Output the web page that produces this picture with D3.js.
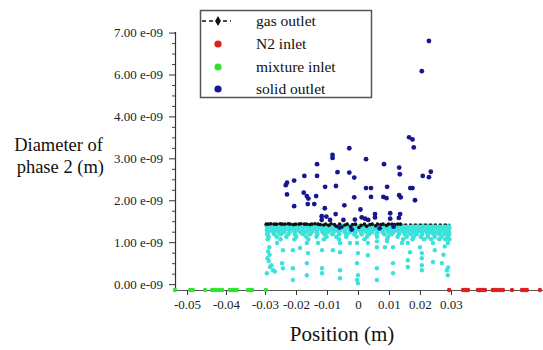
<!DOCTYPE html>
<html>
<head>
<meta charset="utf-8">
<script src="https://cdn.jsdelivr.net/npm/d3@7"></script>
<style>
  body { margin: 0; background: #fff; }
</style>
</head>
<body>
<svg id="chart" width="543" height="350"></svg>
<script>
// ---- data (x in m, diameter in units of 1e-9 m) ----
const yTickValues = [0, 1, 2, 3, 4, 6, 7];
const yTickLabels = ["0.00 e-09", "1.00 e-09", "2.00 e-09", "3.00 e-09", "4.00 e-09", "6.00 e-09", "7.00 e-09"];
const xTickValues = [-0.05, -0.04, -0.03, -0.02, -0.01, 0, 0.01, 0.02, 0.03];
const xTickLabels = ["-0.05", "-0.04", "-0.03", "-0.02", "-0.01", "0", "0.01", "0.02", "0.03"];

const seriesNames = ["gas outlet", "N2 inlet", "mixture inlet", "solid outlet"];

const gasX = [-0.0296, -0.0289, -0.0281, -0.0270, -0.0263, -0.0251, -0.0245, -0.0236, -0.0225, -0.0219, -0.0208, -0.0201,
  -0.0190, -0.0184, -0.0173, -0.0166, -0.0155, -0.0149, -0.0139, -0.0129, -0.0122, -0.0111, -0.0104, -0.0094, -0.0087,
  -0.0076, -0.0070, -0.0059, -0.0052, -0.0042, -0.0035, -0.0024, -0.0017, -0.0008, 0.0003, 0.0010, 0.0021, 0.0028,
  0.0039, 0.0046, 0.0057, 0.0063, 0.0074, 0.0081, 0.0092, 0.0099, 0.0110, 0.0118, 0.0128, 0.0137, 0.0158, 0.0186,
  0.0214, 0.0243, 0.0271, 0.0296];
const gasY = [1.43, 1.43, 1.44, 1.43, 1.43, 1.44, 1.43, 1.43, 1.44, 1.43, 1.42, 1.43,
  1.43, 1.44, 1.43, 1.43, 1.42, 1.43, 1.44, 1.43, 1.42, 1.41, 1.43, 1.40, 1.44,
  1.42, 1.38, 1.43, 1.36, 1.41, 1.43, 1.37, 1.42, 1.43, 1.35, 1.40, 1.43, 1.38,
  1.42, 1.43, 1.39, 1.43, 1.42, 1.43, 1.40, 1.43, 1.43, 1.42, 1.43, 1.43, 1.43, 1.43,
  1.43, 1.43, 1.43, 1.43];

const n2X = [0.0294, 0.0339, 0.0344, 0.0350, 0.0355, 0.0387, 0.0392, 0.0397, 0.0404, 0.0410, 0.0435, 0.0441,
  0.0448, 0.0458, 0.0468, 0.0497, 0.0529, 0.0537, 0.0545, 0.0587];
const n2Y = [-0.14, -0.14, -0.14, -0.14, -0.14, -0.14, -0.14, -0.14, -0.14, -0.14, -0.14, -0.14,
  -0.14, -0.14, -0.14, -0.14, -0.14, -0.14, -0.14, -0.14];

const mixX = [-0.0531, -0.0492, -0.0485, -0.0454, -0.0436, -0.0431, -0.0426, -0.0418, -0.0410, -0.0390, -0.0384,
  -0.0379, -0.0372, -0.0344, -0.0338, -0.0333, -0.0297];
const mixY = [-0.14, -0.14, -0.14, -0.14, -0.14, -0.14, -0.14, -0.14, -0.14, -0.14, -0.14,
  -0.14, -0.14, -0.14, -0.14, -0.14, -0.14];

const solidX = [0.0165, 0.0176, 0.0180, -0.0028, -0.0082, -0.0082, 0.0026, -0.0132, 0.0084, 0.0133, -0.0066, -0.0028,
  -0.0173, -0.0132, -0.0012, 0.0135, 0.0209, 0.0235, 0.0229, -0.0206, -0.0229, -0.0233, -0.0106, -0.0071, 0.0026,
  0.0042, 0.0094, 0.0169, 0.0176, -0.0229, -0.0175, -0.0165, -0.0160, -0.0135, -0.0012, 0.0042, 0.0082, 0.0092,
  0.0133, 0.0138, 0.0184, -0.0206, -0.0162, -0.0141, -0.0044, -0.0107, -0.0072, -0.0102, -0.0117, 0.0008, 0.0055,
  0.0104, 0.0136, 0.0012, 0.0023, 0.0055, -0.0010, 0.0104, 0.0132, -0.0117, -0.0090, -0.0047, 0.0033, 0.0229, 0.0206,
  -0.0060, -0.0020, 0.0070, 0.0115];
const solidY = [3.50, 3.45, 3.26, 3.24, 3.08, 3.01, 2.98, 2.86, 2.86, 2.78, 2.67, 2.66,
  2.58, 2.58, 2.54, 2.62, 2.58, 2.68, 2.55, 2.47, 2.42, 2.36, 2.32, 2.34, 2.29,
  2.29, 2.32, 2.29, 2.29, 2.14, 2.18, 2.10, 2.04, 2.10, 2.07, 2.08, 2.08, 2.05,
  2.12, 2.07, 2.00, 1.86, 1.91, 1.91, 1.88, 1.81, 1.67, 1.61, 1.62, 1.78, 1.67,
  1.69, 1.67, 1.59, 1.56, 1.59, 1.54, 1.56, 1.58, 1.53, 1.53, 1.53, 1.53, 6.80, 6.08,
  1.35, 1.30, 1.33, 1.37];

// the un-labelled cyan particles: dense rows near the outlet, then scattered points
const bandRowY = [1.39, 1.34, 1.29, 1.24, 1.19, 1.13, 1.07];
const bandRowX = [
  [-0.0295, -0.0282, -0.0267, -0.0254, -0.0241, -0.0226, -0.0214, -0.0199, -0.0187, -0.0171, -0.0159, -0.0145,
   -0.0130, -0.0118, -0.0103, -0.0091, -0.0077, -0.0062, -0.0050, -0.0035, -0.0023, -0.0008, 0.0007, 0.0019, 0.0034,
   0.0046, 0.0061, 0.0075, 0.0087, 0.0102, 0.0114, 0.0129, 0.0143, 0.0155, 0.0170, 0.0182, 0.0197, 0.0211, 0.0223,
   0.0238, 0.0250, 0.0265, 0.0279, 0.0293],
  [-0.0291, -0.0276, -0.0262, -0.0247, -0.0234, -0.0219, -0.0205, -0.0193, -0.0178, -0.0163, -0.0152, -0.0137,
   -0.0124, -0.0109, -0.0097, -0.0082, -0.0070, -0.0055, -0.0042, -0.0029, -0.0014, 0.0000, 0.0013, 0.0027, 0.0040,
   0.0054, 0.0068, 0.0081, 0.0095, 0.0108, 0.0122, 0.0135, 0.0149, 0.0163, 0.0176, 0.0190, 0.0204, 0.0217, 0.0231,
   0.0244, 0.0258, 0.0272, 0.0286, 0.0295],
  [-0.0294, -0.0280, -0.0265, -0.0251, -0.0236, -0.0222, -0.0207, -0.0192, -0.0177, -0.0161, -0.0146, -0.0132,
   -0.0116, -0.0102, -0.0087, -0.0071, -0.0056, -0.0041, -0.0027, -0.0011, 0.0004, 0.0018, 0.0034, 0.0049, 0.0063,
   0.0079, 0.0094, 0.0108, 0.0124, 0.0139, 0.0153, 0.0169, 0.0184, 0.0198, 0.0214, 0.0229, 0.0243, 0.0259, 0.0274,
   0.0288],
  [-0.0290, -0.0273, -0.0256, -0.0239, -0.0220, -0.0203, -0.0186, -0.0168, -0.0150, -0.0133, -0.0114, -0.0097,
   -0.0079, -0.0062, -0.0043, -0.0026, -0.0008, 0.0010, 0.0027, 0.0045, 0.0063, 0.0080, 0.0098, 0.0115, 0.0133,
   0.0148, 0.0163, 0.0178, 0.0192, 0.0207, 0.0222, 0.0236, 0.0251, 0.0266, 0.0281, 0.0294],
  [-0.0293, -0.0270, -0.0249, -0.0225, -0.0203, -0.0178, -0.0155, -0.0131, -0.0108, -0.0083, -0.0060, -0.0036,
   -0.0012, 0.0012, 0.0036, 0.0060, 0.0085, 0.0108, 0.0132, 0.0152, 0.0170, 0.0189, 0.0207, 0.0226, 0.0244, 0.0262,
   0.0279, 0.0294],
  [-0.0288, -0.0262, -0.0231, -0.0199, -0.0167, -0.0134, -0.0101, -0.0070, -0.0038, -0.0004, 0.0029, 0.0062,
   0.0097, 0.0128, 0.0157, 0.0180, 0.0203, 0.0225, 0.0248, 0.0270, 0.0290],
  [-0.0291, -0.0250, -0.0205, -0.0160, -0.0110, -0.0061, 0.0021, 0.0094, 0.0146, 0.0176, 0.0213, 0.0236, 0.0262,
   0.0282, 0.0295]
];
const cyanX = [-0.0261, -0.0242, -0.0210, -0.0187, -0.0165, -0.0161, -0.0129, -0.0116, -0.0081, -0.0058, -0.0058,
  -0.0026, -0.0284, -0.0274, -0.0245, -0.0242, -0.0210, -0.0210, -0.0165, -0.0165, -0.0116, -0.0116, -0.0058, -0.0058,
  -0.0003, -0.0003, 0.0000, 0.0032, 0.0032, 0.0061, 0.0061, 0.0094, 0.0087, 0.0113, 0.0142, 0.0161, 0.0168, 0.0200,
  0.0206, 0.0242, 0.0248, 0.0290, -0.0003, 0.0000, 0.0000, 0.0061, 0.0061, 0.0113, 0.0113, 0.0161, 0.0161, 0.0206,
  0.0206, 0.0206, 0.0242, 0.0271, 0.0287, 0.0290, -0.0294, -0.0288, -0.0292, -0.0285, -0.0290, -0.0286, -0.0279,
  -0.0268, 0.0280, 0.0276, 0.0291];
const cyanY = [0.98, 0.81, 0.81, 0.86, 0.98, 0.74, 0.98, 0.81, 0.81, 0.98, 0.76,
  0.98, 0.41, 0.33, 0.50, 0.38, 0.38, 0.10, 0.50, 0.21, 0.38, 0.26, 0.33, 0.14,
  0.10, 0.98, 0.74, 0.98, 0.69, 1.02, 0.88, 1.02, 0.88, 0.88, 0.98, 0.98, 0.76, 0.88,
  0.74, 0.98, 0.81, 0.98, 0.50, 0.21, 0.02, 0.38, 0.10, 0.50, 0.26, 0.57, 0.41, 0.62,
  0.45, 0.33, 0.53, 0.50, 0.33, 0.21, 0.26, 0.55, 0.62, 0.70, 0.78, 0.88, 0.45,
  0.30, 0.90, 0.70, 0.40];

// ---- layout ----
const serif = '"Liberation Serif", "Times New Roman", Times, serif';
const svg = d3.select("#chart");
const x = d3.scaleLinear().domain([-0.0531, -0.03, 0.061]).range([175, 265, 547]);
const y = d3.scaleLinear().domain([-0.14, 4, 6, 7]).range([290, 116.4, 74.5, 32.6]);

const colors = { gas: "#111111", n2: "#dd2020", mix: "#33e033", solid: "#17178f", cyan: "#3ae2da" };

// y axis with minor ticks
const yMinor = [];
for (let i = 0; i < yTickValues.length - 1; i++) {
  const a = yTickValues[i], b = yTickValues[i + 1];
  for (let k = 1; k < 4; k++) yMinor.push(a + (b - a) * k / 4);
}
svg.append("g")
  .attr("transform", "translate(175,0)")
  .call(d3.axisLeft(y).tickValues(yMinor).tickSize(3).tickFormat(""))
  .call(g => g.select(".domain").remove())
  .selectAll("line").attr("stroke", "#444");

const yAxis = svg.append("g")
  .attr("transform", "translate(175,0)")
  .call(d3.axisLeft(y).tickValues(yTickValues).tickSize(6).tickPadding(6)
    .tickFormat((d, i) => yTickLabels[i]));
yAxis.select(".domain").attr("d", `M-0.5,${y(7)}H0.5V${y(-0.14)}`).attr("stroke", "#333").attr("stroke-width", 1.2);
yAxis.selectAll("line").attr("stroke", "#333");
yAxis.selectAll("text").style("font-family", serif).style("font-size", "13px").attr("fill", "#222");

// x axis
const xAxis = svg.append("g")
  .attr("transform", `translate(0,${y(-0.14)})`)
  .call(d3.axisBottom(x).tickValues(xTickValues).tickSize(5).tickPadding(5).tickSizeOuter(0)
    .tickFormat((d, i) => xTickLabels[i]));
xAxis.select(".domain").attr("stroke", "#555").attr("stroke-width", 1.2);
xAxis.selectAll("line").attr("stroke", "#333");
xAxis.selectAll("text").style("font-family", serif).style("font-size", "13px").attr("fill", "#222");

// axis titles
svg.append("text").attr("x", 342).attr("y", 341).attr("text-anchor", "middle")
  .style("font-family", serif).style("font-size", "21px").attr("fill", "#111").text("Position (m)");
const yTitle = svg.append("text").attr("text-anchor", "end")
  .style("font-family", serif).style("font-size", "18.5px").attr("fill", "#111");
yTitle.append("tspan").attr("x", 103).attr("y", 151).text("Diameter of");
yTitle.append("tspan").attr("x", 104).attr("y", 173).text("phase 2 (m)");

// marks
const plot = svg.append("g");
function dots(xs, ys, color, r) {
  plot.append("g").selectAll("circle")
    .data(xs.map((v, i) => [v, ys[i]]))
    .join("circle")
    .attr("cx", d => x(d[0]))
    .attr("cy", d => y(d[1]))
    .attr("r", r)
    .attr("fill", color);
}

bandRowX.forEach((row, i) => dots(row, row.map(() => bandRowY[i]), colors.cyan, 2.3));
dots(cyanX, cyanY, colors.cyan, 2.2);

const gasPts = gasX.map((v, i) => [v, gasY[i]]);
plot.append("path")
  .datum(gasPts)
  .attr("fill", "none")
  .attr("stroke", "#333")
  .attr("stroke-width", 1.5)
  .attr("stroke-dasharray", "3,2")
  .attr("d", d3.line().x(d => x(d[0])).y(d => y(d[1])));
dots(gasX.filter(v => v < 0.014), gasY.filter((v, i) => gasX[i] < 0.014), colors.gas, 1.8);

dots(solidX, solidY, colors.solid, 2.4);
dots(mixX, mixY, colors.mix, 2.2);
dots(n2X, n2Y, colors.n2, 2.2);

// legend
const legend = svg.append("g");
legend.append("rect").attr("x", 200.5).attr("y", 10.5).attr("width", 171).attr("height", 87)
  .attr("fill", "#fff").attr("stroke", "#555").attr("stroke-width", 1.5);
const legendRowY = [21, 44, 67, 89];
const legendColors = [colors.gas, colors.n2, colors.mix, colors.solid];
seriesNames.forEach((name, i) => {
  const row = legend.append("g").attr("transform", `translate(0,${legendRowY[i]})`);
  if (i === 0) {
    row.append("line").attr("x1", 202).attr("x2", 231).attr("stroke", "#111")
      .attr("stroke-width", 1.5).attr("stroke-dasharray", "4,3");
    row.append("path").attr("d", d3.symbol(d3.symbolDiamond, 30)).attr("transform", "translate(218,0)")
      .attr("fill", "#111");
  } else {
    row.append("circle").attr("cx", 218).attr("r", 3.6).attr("fill", legendColors[i]);
  }
  row.append("text").attr("x", 256).attr("dy", "0.33em")
    .style("font-family", serif).style("font-size", "15.5px").attr("fill", "#111").text(name);
});
</script>
</body>
</html>
